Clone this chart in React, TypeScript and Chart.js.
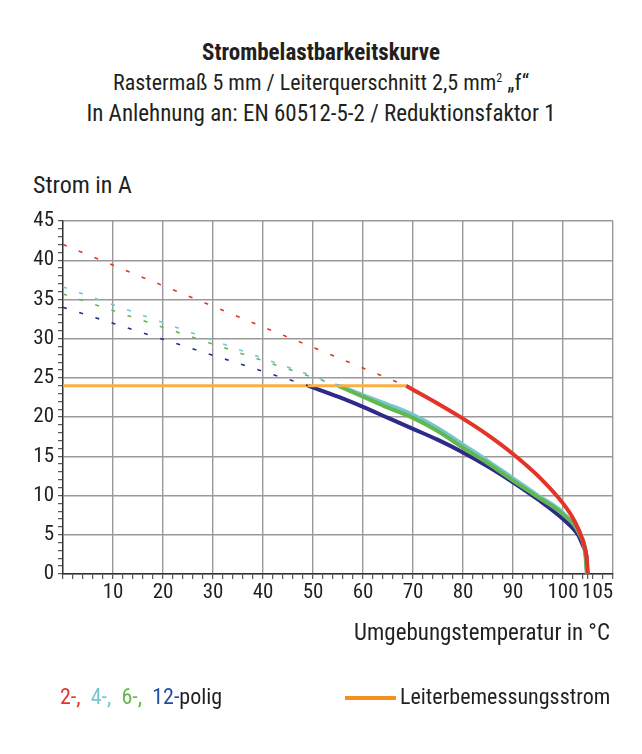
import React, { useEffect, useRef } from "react";
import { Chart, registerables } from "chart.js";

Chart.register(...registerables);

// ---- Data ----
const redTemp = [68.6, 70, 75, 80, 85, 90, 95, 100, 102, 104, 104.7, 105];
const redAmp = [24, 23.5, 21.7, 19.8, 17.7, 15.3, 12.5, 9.0, 7.1, 4.2, 2.2, 0];

const cyanTemp = [55.4, 60, 65, 70, 75, 80, 85, 90, 95, 100, 103.4, 104.5, 104.8];
const cyanAmp = [24, 22.8, 21.6, 20.3, 18.6, 16.5, 14.4, 12.2, 10.0, 7.8, 5, 2.8, 0];

const greenTemp = [55, 60, 65, 70, 75, 80, 85, 90, 95, 100, 103.4, 104.4, 104.8];
const greenAmp = [24, 22.6, 21.2, 19.9, 18.2, 16.1, 14.1, 11.9, 9.8, 7.6, 5, 2.8, 0];

const blueTemp = [49, 55, 60, 65, 70, 75, 80, 85, 90, 95, 100, 103, 104.3, 104.7, 104.8];
const blueAmp = [24, 22.6, 21.3, 19.9, 18.5, 17.1, 15.5, 13.7, 11.7, 9.5, 7.0, 5, 3.2, 2.2, 0];

// extrapolated (dashed) lines: start at 0 °C, end where they meet the rated current
const redDashTemp = [0, 68.6];
const redDashAmp = [42, 24];
const cyanDashTemp = [0, 55.4];
const cyanDashAmp = [36.6, 24];
const greenDashTemp = [0, 55];
const greenDashAmp = [35.7, 24];
const blueDashTemp = [0, 49];
const blueDashAmp = [34, 24];

const ratedTemp = [0, 68.6];
const ratedAmp = [24, 24];

const xTickLabels = [10, 20, 30, 40, 50, 60, 70, 80, 90, 100, 105];
const xMinorStep = 2;
const yTickLabels = [0, 5, 10, 15, 20, 25, 30, 35, 40, 45];
const xMin = 0;
const xMax = 110;
const yMin = 0;
const yMax = 45;

const RED = "#e3342a";
const CYAN = "#74c6d2";
const GREEN = "#62b84e";
const NAVY = "#2d2a8a";
const ORANGE_LINE = "#f8b043";
const ORANGE_LEG = "#f39021";
const LEG_BLUE = "#1f4f9c";
const TEXT = "#231f20";

const FONT =
  "'Roboto Condensed','Liberation Sans Narrow','DejaVu Sans Condensed','Noto Sans',sans-serif";

const pts = (xs: number[], ys: number[]) => xs.map((x, i) => ({ x, y: ys[i] }));

export default function App() {
  const ref = useRef<HTMLCanvasElement | null>(null);

  useEffect(() => {
    if (!ref.current) return;
    const xTicks: number[] = [];
    for (let v = xMin; v <= xMax; v += xMinorStep) xTicks.push(v);
    xTickLabels.forEach((v) => {
      if (!xTicks.includes(v)) xTicks.push(v);
    });
    xTicks.sort((a, b) => a - b);
    const yTicks: number[] = [];
    for (let v = yMin; v <= yMax; v += 1) yTicks.push(v);

    const dash = (data: any, color: string) => ({
      data,
      borderColor: color,
      borderWidth: 1.6,
      borderDash: [4, 13],
      pointRadius: 0,
      fill: false,
      tension: 0,
    });
    const solid = (data: any, color: string) => ({
      data,
      borderColor: color,
      borderWidth: 4,
      pointRadius: 0,
      fill: false,
      cubicInterpolationMode: "monotone" as const,
      borderCapStyle: "butt" as const,
    });

    const chart = new Chart(ref.current, {
      type: "line",
      data: {
        datasets: [
          dash(pts(redDashTemp, redDashAmp), RED),
          dash(pts(cyanDashTemp, cyanDashAmp), CYAN),
          dash(pts(greenDashTemp, greenDashAmp), GREEN),
          dash(pts(blueDashTemp, blueDashAmp), NAVY),
          {
            data: pts(ratedTemp, ratedAmp),
            borderColor: ORANGE_LINE,
            borderWidth: 3,
            pointRadius: 0,
            fill: false,
          },
          solid(pts(redTemp, redAmp), RED),
          solid(pts(greenTemp, greenAmp), GREEN),
          solid(pts(cyanTemp, cyanAmp), CYAN),
          solid(pts(blueTemp, blueAmp), NAVY),
        ] as any,
      },
      options: {
        responsive: false,
        animation: false,
        devicePixelRatio: 1,
        layout: { padding: { left: 0, top: 221, right: 29, bottom: 140 } },
        plugins: { legend: { display: false }, tooltip: { enabled: false } },
        scales: {
          x: {
            type: "linear",
            min: xMin,
            max: xMax,
            afterBuildTicks: (s: any) => {
              s.ticks = xTicks.map((v) => ({ value: v }));
            },
            afterFit: (s: any) => {
              s.height = 40;
            },
            ticks: {
              autoSkip: false,
              maxRotation: 0,
              padding: 1,
              color: TEXT,
              font: { family: FONT, size: 21 },
              callback: (v: any) => {
                const n = Number(v);
                if (!xTickLabels.includes(n)) return "";
                return n === 105 ? "\u00a0\u00a0\u00a0\u00a0105" : String(n);
              },
            },
            grid: {
              color: (ctx: any) =>
                ctx.tick && ctx.tick.value % 10 === 0 ? "#9a9a9a" : "rgba(0,0,0,0)",
              lineWidth: 1.4,
              tickLength: 5,
              tickColor: "#333",
              tickWidth: 1,
            } as any,
            border: { color: "#333", width: 1.4 },
          },
          y: {
            type: "linear",
            min: yMin,
            max: yMax,
            afterBuildTicks: (s: any) => {
              s.ticks = yTicks.map((v) => ({ value: v }));
            },
            afterFit: (s: any) => {
              s.width = 63;
            },
            ticks: {
              autoSkip: false,
              padding: 4,
              color: TEXT,
              font: { family: FONT, size: 21 },
              callback: (v: any) => (yTickLabels.includes(Number(v)) ? String(v) : ""),
            },
            grid: {
              color: (ctx: any) =>
                ctx.tick && ctx.tick.value % 5 === 0 ? "#9a9a9a" : "rgba(0,0,0,0)",
              lineWidth: 1.4,
              tickLength: 5,
              tickColor: "#333",
              tickWidth: 1,
            } as any,
            border: { color: "#333", width: 1.4 },
          },
        },
      },
    });
    return () => chart.destroy();
  }, []);

  const center = (y: number, extra: React.CSSProperties = {}): React.CSSProperties => ({
    position: "absolute",
    left: 0,
    width: 642,
    top: y,
    transform: "translateY(-50%)",
    textAlign: "center",
    whiteSpace: "nowrap",
    lineHeight: 1,
    ...extra,
  });

  return (
    <div
      style={{
        position: "fixed",
        left: 0,
        top: 0,
        width: 642,
        height: 754,
        background: "#fff",
        fontFamily: FONT,
        color: TEXT,
        overflow: "hidden",
      }}
    >
      <div style={center(52, { fontSize: 23, fontWeight: "bold" })}>Strombelastbarkeitskurve</div>
      <div style={center(83, { fontSize: 22 })}>
        Rastermaß 5 mm / Leiterquerschnitt 2,5 mm<sup style={{ fontSize: 12, verticalAlign: 8 }}>2</sup> „f“
      </div>
      <div style={center(113, { fontSize: 23 })}>
        In Anlehnung an: EN 60512-5-2 / Reduktionsfaktor 1
      </div>
      <div
        style={{
          position: "absolute",
          left: 33,
          top: 185,
          transform: "translateY(-50%)",
          fontSize: 24,
          lineHeight: 1,
          whiteSpace: "nowrap",
        }}
      >
        Strom in A
      </div>
      <canvas
        ref={ref}
        width={642}
        height={754}
        style={{ position: "absolute", left: 0, top: 0, width: 642, height: 754 }}
      />
      <div
        style={{
          position: "absolute",
          right: 642 - 610,
          top: 632,
          transform: "translateY(-50%)",
          fontSize: 23,
          lineHeight: 1,
          whiteSpace: "nowrap",
        }}
      >
        Umgebungstemperatur in °C
      </div>
      <div
        style={{
          position: "absolute",
          left: 60,
          top: 697,
          transform: "translateY(-50%)",
          fontSize: 22,
          lineHeight: 1,
          whiteSpace: "nowrap",
          wordSpacing: 5,
        }}
      >
        <span style={{ color: RED }}>2-,</span> <span style={{ color: CYAN }}>4-,</span>{" "}
        <span style={{ color: GREEN }}>6-,</span> <span style={{ color: LEG_BLUE }}>12-</span>
        polig
      </div>
      <div
        style={{
          position: "absolute",
          left: 345,
          top: 696,
          width: 51,
          height: 4,
          background: ORANGE_LEG,
        }}
      />
      <div
        style={{
          position: "absolute",
          left: 400,
          top: 697,
          transform: "translateY(-50%)",
          fontSize: 22,
          lineHeight: 1,
          whiteSpace: "nowrap",
        }}
      >
        Leiterbemessungsstrom
      </div>
    </div>
  );
}
